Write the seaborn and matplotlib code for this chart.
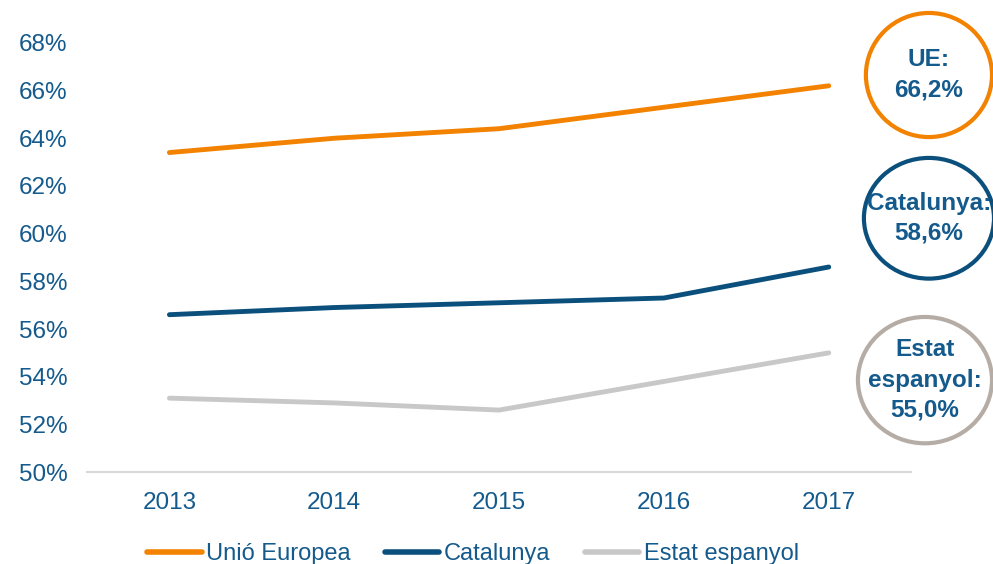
import numpy as np
import pandas as pd
import matplotlib
matplotlib.use('Agg')
import matplotlib.pyplot as plt
import seaborn as sns
from matplotlib.patches import Ellipse

# data (percent)
years = [2013, 2014, 2015, 2016, 2017]
ue = [63.4, 64.0, 64.4, 65.3, 66.2]
catalunya = [56.6, 56.9, 57.1, 57.3, 58.6]
estat = [53.1, 52.9, 52.6, 53.8, 55.0]
series_names = ['Unió Europea', 'Catalunya', 'Estat espanyol']
y_ticks = [50, 52, 54, 56, 58, 60, 62, 64, 66, 68]
y_tick_labels = ['50%', '52%', '54%', '56%', '58%', '60%', '62%', '64%', '66%', '68%']
bubble_labels = ['UE:\n66,2%', 'Catalunya:\n58,6%', 'Estat\nespanyol:\n55,0%']

ORANGE = '#F28200'
BLUE = '#0B4F7C'
GREY = '#C8C8C8'
TEXT = '#145A8C'
palette = {series_names[0]: ORANGE, series_names[1]: BLUE, series_names[2]: GREY}

df = pd.DataFrame({
    'year': years * 3,
    'value': ue + catalunya + estat,
    'serie': [series_names[0]] * 5 + [series_names[1]] * 5 + [series_names[2]] * 5,
})

sns.set_theme(style='white')
plt.rcParams['font.family'] = ['Liberation Sans', 'DejaVu Sans']

fig = plt.figure(figsize=(9.93, 5.64), dpi=100)
ax = fig.add_axes([0.0876, 0.163, 0.830, 0.761])

sns.lineplot(data=df, x='year', y='value', hue='serie', palette=palette,
             hue_order=series_names, linewidth=3.5, ax=ax, legend=False)
for line in ax.get_lines():
    line.set_solid_capstyle('round')

ax.set_xlim(2012.5, 2017.5)
ax.set_ylim(50, 68)
ax.set_xticks(years)
ax.set_xticklabels([str(y) for y in years])
ax.set_yticks(y_ticks)
ax.set_yticklabels(y_tick_labels)
ax.set_xlabel('')
ax.set_ylabel('')
ax.tick_params(axis='both', length=0, labelsize=17.5, labelcolor=TEXT)
ax.tick_params(axis='y', pad=14)
ax.tick_params(axis='x', pad=14)
for side in ['left', 'right', 'top']:
    ax.spines[side].set_visible(False)
ax.spines['bottom'].set_color('#D9D9D9')
ax.spines['bottom'].set_linewidth(1.5)
ax.grid(False)

# legend at the bottom (partly cut by the figure edge, as in the source)
handles = [plt.Line2D([], [], color=palette[n], linewidth=4.0, solid_capstyle='round')
           for n in series_names]
fig.legend(handles, series_names, loc='center', bbox_to_anchor=(0.4765, 0.017),
           ncol=3, frameon=False, handlelength=2.3, handletextpad=0.2,
           columnspacing=1.45, prop={'size': 17}, labelcolor=TEXT,
           borderpad=0, borderaxespad=0)

# circled end values on the right
bubbles = [
    (0.9355, 0.867, 0.127, 0.220, ORANGE),
    (0.9355, 0.613, 0.131, 0.214, BLUE),
    (0.9315, 0.326, 0.135, 0.224, '#B5ADA5'),
]
for (cx, cy, w, h, col), txt in zip(bubbles, bubble_labels):
    fig.patches.append(Ellipse((cx, cy), w, h, transform=fig.transFigure,
                               facecolor='white', edgecolor=col, linewidth=3.0))
    fig.text(cx, cy, txt, ha='center', va='center', fontsize=17.5,
             fontweight='bold', color=TEXT, linespacing=1.4)

fig.savefig('out.png', dpi=100)
